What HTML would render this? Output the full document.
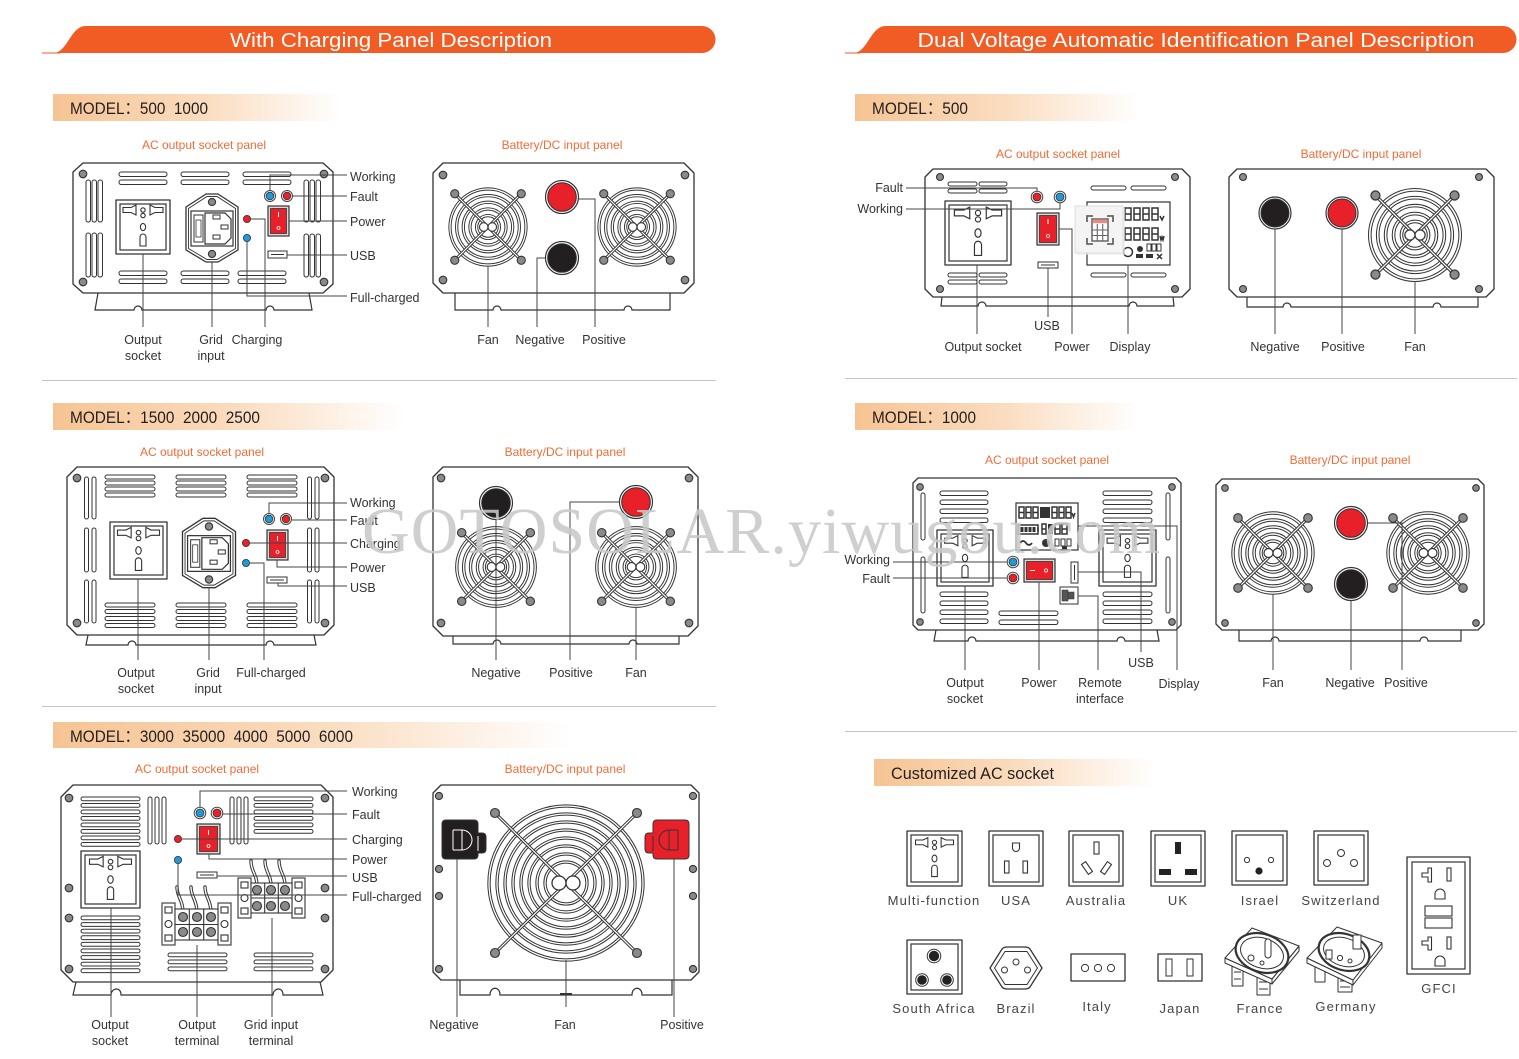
<!DOCTYPE html>
<html><head><meta charset="utf-8">
<style>
html,body{margin:0;padding:0;background:#fff;}
svg{display:block;}
.o{fill:#fff;stroke:#333;stroke-width:1.3;stroke-linejoin:round}
.n{fill:none;stroke:#333;stroke-width:1.2}
.l{fill:none;stroke:#444;stroke-width:1}
.s rect{fill:#fff;stroke:#333;stroke-width:1}
.sc{fill:#8a8a8a;stroke:#333;stroke-width:1.1}
.lb{font-family:"Liberation Sans",sans-serif;font-size:12.5px;fill:#333}
.tt{font-family:"Liberation Sans",sans-serif;font-size:12px;fill:#f26b36}
.md{font-family:"Liberation Sans","Noto Sans CJK SC",sans-serif;font-size:17px;fill:#231f20}
.cs{font-family:"Liberation Sans",sans-serif;font-size:13px;fill:#444;letter-spacing:1.1px}
.dg{fill:none;stroke:#333;stroke-width:1.5}
</style></head><body>
<svg width="1519" height="1059" viewBox="0 0 1519 1059" xmlns="http://www.w3.org/2000/svg">
<defs>
<linearGradient id="mg" x1="0" x2="1" y1="0" y2="0"><stop offset="0" stop-color="#f6c493"/><stop offset=".5" stop-color="#fadbbd"/><stop offset="1" stop-color="#ffffff"/></linearGradient>
</defs>
<rect width="1519" height="1059" fill="#fff"/>

<!-- Banners -->
<path d="M53,53 C68,53 70,26 86,26 H702 A13.5,13.5 0 0 1 702,53 Z" fill="#f15b24"/>
<line x1="42" y1="53" x2="60" y2="53" stroke="#f15b24" stroke-width="1"/>
<text x="391" y="47" text-anchor="middle" font-family="Liberation Sans" font-size="20" fill="#fff" textLength="322" lengthAdjust="spacingAndGlyphs">With Charging Panel Description</text>
<path d="M853,53 C868,53 870,26 886,26 H1503 A13.5,13.5 0 0 1 1503,53 Z" fill="#f15b24"/>
<line x1="845" y1="53" x2="860" y2="53" stroke="#f15b24" stroke-width="1"/>
<text x="1196" y="47" text-anchor="middle" font-family="Liberation Sans" font-size="20" fill="#fff" textLength="557" lengthAdjust="spacingAndGlyphs">Dual Voltage Automatic Identification Panel Description</text>

<!-- Model bars -->
<rect x="53" y="94" width="290" height="27" fill="url(#mg)"/>
<text class="md" x="70" y="114" textLength="138" lengthAdjust="spacingAndGlyphs">MODEL：500&#160;&#160;1000</text>
<rect x="53" y="403" width="352" height="27" fill="url(#mg)"/>
<text class="md" x="70" y="423" textLength="190" lengthAdjust="spacingAndGlyphs">MODEL：1500&#160;&#160;2000&#160;&#160;2500</text>
<rect x="53" y="722" width="520" height="26" fill="url(#mg)"/>
<text class="md" x="70" y="742" textLength="283" lengthAdjust="spacingAndGlyphs">MODEL：3000&#160;&#160;35000&#160;&#160;4000&#160;&#160;5000&#160;&#160;6000</text>
<rect x="855" y="94" width="285" height="27" fill="url(#mg)"/>
<text class="md" x="872" y="114" textLength="96" lengthAdjust="spacingAndGlyphs">MODEL：500</text>
<rect x="855" y="403" width="285" height="27" fill="url(#mg)"/>
<text class="md" x="872" y="423" textLength="104" lengthAdjust="spacingAndGlyphs">MODEL：1000</text>
<rect x="874" y="759" width="282" height="27" fill="url(#mg)"/>
<text class="md" x="891" y="779" textLength="163" lengthAdjust="spacingAndGlyphs">Customized AC socket</text>

<!-- separators -->
<g stroke="#c4c4c4" stroke-width="1">
<line x1="42" y1="380.5" x2="716" y2="380.5"/>
<line x1="42" y1="706.5" x2="716" y2="706.5"/>
<line x1="845" y1="378.5" x2="1517" y2="378.5"/>
<line x1="845" y1="731.5" x2="1517" y2="731.5"/>
</g>

<!-- ================= L1 AC ================= -->
<text class="tt" x="204" y="149" text-anchor="middle">AC output socket panel</text>
<polygon class="o" points="83,163 323,163 333,172 333,284 323,293 83,293 73,284 73,172"/>
<path class="n" d="M98,293 L95,310 H134 A4,4 0 0 1 142,310 H266 A4,4 0 0 1 274,310 H312 L309,293"/>
<g class="sc"><circle cx="83" cy="174" r="3.8"/><circle cx="324" cy="174" r="3.8"/><circle cx="83" cy="282" r="3.8"/><circle cx="324" cy="282" r="3.8"/></g>
<g class="s">
<rect x="119" y="172" width="48" height="4.5" rx="2.2"/><rect x="119" y="180" width="48" height="4.5" rx="2.2"/>
<rect x="181" y="172" width="48" height="4.5" rx="2.2"/><rect x="181" y="180" width="48" height="4.5" rx="2.2"/>
<rect x="243" y="172" width="48" height="4.5" rx="2.2"/><rect x="243" y="180" width="48" height="4.5" rx="2.2"/>
<rect x="119" y="271" width="48" height="4.5" rx="2.2"/><rect x="119" y="279" width="48" height="4.5" rx="2.2"/>
<rect x="181" y="271" width="48" height="4.5" rx="2.2"/><rect x="181" y="279" width="48" height="4.5" rx="2.2"/>
<rect x="238" y="271" width="48" height="4.5" rx="2.2"/><rect x="238" y="279" width="48" height="4.5" rx="2.2"/>
<rect x="86" y="180" width="4.5" height="42" rx="2.2"/><rect x="92" y="180" width="4.5" height="42" rx="2.2"/><rect x="98" y="180" width="4.5" height="42" rx="2.2"/>
<rect x="86" y="233" width="4.5" height="44" rx="2.2"/><rect x="92" y="233" width="4.5" height="44" rx="2.2"/><rect x="98" y="233" width="4.5" height="44" rx="2.2"/>
<rect x="304" y="180" width="4.5" height="42" rx="2.2"/><rect x="310" y="180" width="4.5" height="42" rx="2.2"/><rect x="316" y="180" width="4.5" height="42" rx="2.2"/>
<rect x="304" y="234" width="4.5" height="43" rx="2.2"/><rect x="310" y="234" width="4.5" height="43" rx="2.2"/><rect x="316" y="234" width="4.5" height="43" rx="2.2"/>
</g>
<rect class="o" x="116" y="200" width="54" height="54"/><rect class="n" x="120" y="204" width="46" height="46" stroke-width="1"/>
<g transform="translate(143,227)" fill="#fff" stroke="#333" stroke-width="1.1"><path d="M-20,-19.5 H-12 L-7,-22 V-12 L-12,-14.5 H-20 Z"/><path d="M20,-19.5 H12 L7,-22 V-12 L12,-14.5 H20 Z"/><circle cy="-17" r="2.2"/><circle cy="-11.5" r="2.2"/><ellipse cy="0" rx="2.6" ry="3.6"/><path d="M-3,19 V10 A3,3 0 0 1 3,10 V19 Z"/></g>
<g transform="translate(212,228)">
<path d="M-26,-21 L-6,-34 H6 L26,-21 V22 L6,34 H-6 L-26,22 Z" fill="#fff" stroke="#333" stroke-width="1.3" stroke-linejoin="round"/>
<path d="M-23.5,-19.5 L-5,-31.5 H5 L23.5,-19.5 V20.5 L5,31.5 H-5 L-23.5,20.5 Z" fill="none" stroke="#333" stroke-width=".9"/>
<circle cy="-26" r="3.6" class="sc"/><circle cy="26" r="3.6" class="sc"/>
<rect x="-21" y="-17" width="42" height="35" fill="#fff" stroke="#333" stroke-width="1.2"/>
<rect x="-18" y="-13" width="9" height="27" fill="#fff" stroke="#333"/>
<rect x="-16" y="-8" width="5" height="17" fill="#fff" stroke="#333" stroke-width=".8"/>
<path d="M-7,-15 H13 L19,-9 V10 L13,16 H-7 Z" fill="#fff" stroke="#333" stroke-width="1.2"/>
<g fill="#fff" stroke="#333" stroke-width="1"><rect x="1" y="-13" width="7" height="4"/><rect x="9" y="-3" width="7" height="4"/><rect x="1" y="7" width="7" height="4"/></g>
</g>
<circle cx="270" cy="196" r="5.5" fill="#fff" stroke="#444"/><circle cx="270" cy="196" r="3.8" fill="#1e9ad6" stroke="#333" stroke-width=".8"/>
<circle cx="287" cy="196" r="5.5" fill="#fff" stroke="#444"/><circle cx="287" cy="196" r="3.8" fill="#e8202a" stroke="#333" stroke-width=".8"/>
<circle cx="247" cy="219" r="3.6" fill="#e8202a" stroke="#333" stroke-width=".8"/>
<circle cx="247" cy="238" r="3.6" fill="#1e9ad6" stroke="#333" stroke-width=".8"/>
<rect x="268" y="206" width="21" height="30" fill="#d9d9d9" stroke="#333" stroke-width="1.2"/>
<rect x="270.5" y="208.5" width="16" height="25" fill="#e8202a" stroke="#333" stroke-width=".8"/>
<line x1="278.5" y1="212" x2="278.5" y2="217" stroke="#fff"/><circle cx="278.5" cy="228" r="1.5" fill="none" stroke="#fff" stroke-width=".8"/>
<rect x="268" y="251" width="19" height="7" fill="#fff" stroke="#333"/><line x1="271" y1="254.5" x2="284" y2="254.5" stroke="#333"/>
<g class="l">
<polyline points="270,191 270,175 347,175"/><polyline points="292,196 347,196"/><polyline points="289,221 347,221"/><polyline points="287,255 347,255"/>
<polyline points="247,241 247,296 347,296"/><polyline points="250,219 265,219 265,327"/>
<polyline points="143,254 143,327"/><polyline points="212,262 212,327"/>
</g>
<text class="lb" x="350" y="181">Working</text><text class="lb" x="350" y="201">Fault</text><text class="lb" x="350" y="226">Power</text><text class="lb" x="350" y="260">USB</text><text class="lb" x="350" y="302">Full-charged</text>
<text class="lb" x="143" y="344" text-anchor="middle">Output</text><text class="lb" x="143" y="360" text-anchor="middle">socket</text>
<text class="lb" x="211" y="344" text-anchor="middle">Grid</text><text class="lb" x="211" y="360" text-anchor="middle">input</text>
<text class="lb" x="257" y="344" text-anchor="middle">Charging</text>

<!-- ================= L1 DC ================= -->
<text class="tt" x="562" y="149" text-anchor="middle">Battery/DC input panel</text>
<polygon class="o" points="443,163 684,163 694,173 694,283 684,293 443,293 433,283 433,173"/>
<path class="n" d="M455,293 V310 H493 A4,4 0 0 1 501,310 H624 A4,4 0 0 1 632,310 H670 V293"/>
<g class="sc"><circle cx="443" cy="175" r="3.8"/><circle cx="685" cy="175" r="3.8"/><circle cx="443" cy="280" r="3.8"/><circle cx="685" cy="280" r="3.8"/></g>
<g transform="translate(488,227) scale(.95)"><g fill="none" stroke="#333" stroke-width="3.4"><circle r="40"/><circle r="33"/><circle r="26"/><circle r="19"/><circle r="12"/></g><g fill="none" stroke="#fff" stroke-width="1.4"><circle r="40"/><circle r="33"/><circle r="26"/><circle r="19"/><circle r="12"/></g><path d="M-35,-35L35,35M35,-35L-35,35" stroke="#333" stroke-width="3.2"/><path d="M-35,-35L35,35M35,-35L-35,35" stroke="#fff" stroke-width="1.2"/><circle cx="-4.5" r="4.5" fill="#fff" stroke="#333" stroke-width="1.2"/><circle cx="4.5" r="4.5" fill="#fff" stroke="#333" stroke-width="1.2"/><g class="sc"><circle cx="-35" cy="-35" r="4.3"/><circle cx="35" cy="-35" r="4.3"/><circle cx="-35" cy="35" r="4.3"/><circle cx="35" cy="35" r="4.3"/></g></g>
<g transform="translate(637,227) scale(.95)"><g fill="none" stroke="#333" stroke-width="3.4"><circle r="40"/><circle r="33"/><circle r="26"/><circle r="19"/><circle r="12"/></g><g fill="none" stroke="#fff" stroke-width="1.4"><circle r="40"/><circle r="33"/><circle r="26"/><circle r="19"/><circle r="12"/></g><path d="M-35,-35L35,35M35,-35L-35,35" stroke="#333" stroke-width="3.2"/><path d="M-35,-35L35,35M35,-35L-35,35" stroke="#fff" stroke-width="1.2"/><circle cx="-4.5" r="4.5" fill="#fff" stroke="#333" stroke-width="1.2"/><circle cx="4.5" r="4.5" fill="#fff" stroke="#333" stroke-width="1.2"/><g class="sc"><circle cx="-35" cy="-35" r="4.3"/><circle cx="35" cy="-35" r="4.3"/><circle cx="-35" cy="35" r="4.3"/><circle cx="35" cy="35" r="4.3"/></g></g>
<circle cx="562" cy="197" r="16.5" fill="#fff" stroke="#333" stroke-width="1.2"/><circle cx="562" cy="197" r="14.3" fill="#e8202a" stroke="#333"/>
<circle cx="562" cy="258" r="16.5" fill="#fff" stroke="#333" stroke-width="1.2"/><circle cx="562" cy="258" r="14.3" fill="#231f20" stroke="#333"/>
<g class="l"><polyline points="488,266 488,327"/><polyline points="545,258 537,258 537,327"/><polyline points="579,199 595,199 595,327"/></g>
<text class="lb" x="488" y="344" text-anchor="middle">Fan</text><text class="lb" x="540" y="344" text-anchor="middle">Negative</text><text class="lb" x="604" y="344" text-anchor="middle">Positive</text>

<!-- ================= R1 AC ================= -->
<text class="tt" x="1058" y="158" text-anchor="middle">AC output socket panel</text>
<polygon class="o" points="933,169 1182,169 1190,177 1190,289 1182,297 933,297 925,289 925,177"/>
<path class="n" d="M942,297 L941,306 H978 A4,4 0 0 1 986,306 H1129 A4,4 0 0 1 1137,306 H1174 L1173,297"/>
<g class="sc"><circle cx="940" cy="177" r="3.5"/><circle cx="1175" cy="177" r="3.5"/><circle cx="940" cy="289" r="3.5"/><circle cx="1175" cy="289" r="3.5"/></g>
<g class="s">
<rect x="948" y="182" width="29" height="4" rx="2"/><rect x="948" y="189" width="29" height="4" rx="2"/><rect x="979" y="182" width="28" height="4" rx="2"/><rect x="979" y="189" width="28" height="4" rx="2"/>
<rect x="948" y="273" width="29" height="4" rx="2"/><rect x="948" y="280" width="29" height="4" rx="2"/><rect x="979" y="273" width="28" height="4" rx="2"/><rect x="979" y="280" width="28" height="4" rx="2"/>
<rect x="1091" y="186" width="35" height="4" rx="2"/><rect x="1131" y="186" width="35" height="4" rx="2"/>
<rect x="1091" y="273" width="35" height="4" rx="2"/><rect x="1131" y="273" width="35" height="4" rx="2"/>
</g>
<rect class="o" x="945" y="201" width="66" height="64"/><rect class="n" x="949" y="205" width="58" height="56" stroke-width="1"/>
<g transform="translate(978,233) scale(1.18)" fill="#fff" stroke="#333" stroke-width="1"><path d="M-20,-19.5 H-12 L-7,-22 V-12 L-12,-14.5 H-20 Z"/><path d="M20,-19.5 H12 L7,-22 V-12 L12,-14.5 H20 Z"/><circle cy="-17" r="2.2"/><circle cy="-11.5" r="2.2"/><ellipse cy="0" rx="2.6" ry="3.6"/><path d="M-3,19 V10 A3,3 0 0 1 3,10 V19 Z"/></g>
<circle cx="1037" cy="197" r="5.8" fill="#fff" stroke="#444"/><circle cx="1037" cy="197" r="4" fill="#e8202a" stroke="#333" stroke-width=".8"/>
<circle cx="1060" cy="197" r="5.8" fill="#fff" stroke="#444"/><circle cx="1060" cy="197" r="4" fill="#1e9ad6" stroke="#333" stroke-width=".8"/>
<rect x="1037" y="213" width="22" height="32" fill="#d9d9d9" stroke="#333" stroke-width="1.2"/>
<rect x="1039.5" y="215.5" width="17" height="27" fill="#e8202a" stroke="#333" stroke-width=".8"/>
<line x1="1048" y1="219" x2="1048" y2="224" stroke="#fff"/><circle cx="1048" cy="236" r="1.5" fill="none" stroke="#fff" stroke-width=".8"/>
<rect x="1038" y="262" width="20" height="6" fill="#fff" stroke="#333"/><line x1="1041" y1="265" x2="1055" y2="265" stroke="#333"/>
<rect x="1087" y="202" width="83" height="63" fill="#fff" stroke="#333" stroke-width="1.2"/>
<g class="dg">
<path d="M1125,208h6v12h-6zM1125,214h6M1134,208h6v12h-6zM1134,214h6M1143,208h6v12h-6zM1143,214h6M1152,208h6v12h-6zM1152,214h6M1160,216l2,4l2,-4"/>
<path d="M1125,228h6v12h-6zM1125,234h6M1134,228h6v12h-6zM1134,234h6M1143,228h6v12h-6zM1143,234h6M1152,228h6v12h-6zM1152,234h6M1160,236l1,4l1,-3l1,3l1,-4"/>
<circle cx="1128" cy="252" r="4.5"/>
<path d="M1147,244h4v7h-4zM1152,244h4v7h-4zM1157,244h4v7h-4z" stroke-width="1"/>
</g>
<circle cx="1140" cy="249" r="3" fill="#333"/>
<rect x="1136" y="254" width="7" height="4" fill="#333"/><rect x="1146" y="254" width="7" height="4" fill="#333"/><path d="M1157,254l5,5M1162,254l-5,5" stroke="#333" stroke-width="1.5"/>
<rect x="1113" y="208" width="9" height="13" fill="#333"/><rect x="1113" y="228" width="9" height="13" fill="#333"/>
<rect x="1077" y="208" width="48" height="47" fill="#e9e9e9" opacity=".6"/>
<rect x="1075" y="206" width="48" height="47" fill="#f4f4f4" stroke="#dcdcdc"/>
<path d="M1087,222v-6h6M1107,216h6v6M1113,238v6h-6M1093,244h-6v-6" fill="none" stroke="#666" stroke-width="1.8"/>
<rect x="1092" y="219" width="16" height="22" fill="#fff" stroke="#666" stroke-width="1.5"/>
<rect x="1092.7" y="219.7" width="14.6" height="3.5" fill="#ec8a82"/>
<path d="M1097.3,224v17M1102.7,224v17M1092,230h16M1092,235.5h16" stroke="#666" stroke-width="1.1"/>
<g class="l">
<polyline points="906,188 1037,188 1037,191"/><polyline points="906,209 1060,209 1060,203"/>
<polyline points="1048,268 1048,317"/><polyline points="1059,229 1072,229 1072,334"/>
<polyline points="977,265 977,334"/><polyline points="1128,265 1128,334"/>
</g>
<text class="lb" x="903" y="192" text-anchor="end">Fault</text><text class="lb" x="903" y="213" text-anchor="end">Working</text>
<text class="lb" x="1047" y="330" text-anchor="middle">USB</text>
<text class="lb" x="983" y="351" text-anchor="middle">Output socket</text><text class="lb" x="1072" y="351" text-anchor="middle">Power</text><text class="lb" x="1130" y="351" text-anchor="middle">Display</text>

<!-- ================= R1 DC ================= -->
<text class="tt" x="1361" y="158" text-anchor="middle">Battery/DC input panel</text>
<polygon class="o" points="1237,169 1486,169 1494,177 1494,289 1486,297 1237,297 1229,289 1229,177"/>
<path class="n" d="M1247,297 V307 H1283 A4,4 0 0 1 1291,307 H1433 A4,4 0 0 1 1441,307 H1478 V297"/>
<g class="sc"><circle cx="1243" cy="177" r="3.5"/><circle cx="1479" cy="177" r="3.5"/><circle cx="1243" cy="289" r="3.5"/><circle cx="1479" cy="289" r="3.5"/></g>
<circle cx="1275" cy="213" r="16" fill="#fff" stroke="#333" stroke-width="1.2"/><circle cx="1275" cy="213" r="14" fill="#231f20" stroke="#333"/>
<circle cx="1342" cy="213" r="16" fill="#fff" stroke="#333" stroke-width="1.2"/><circle cx="1342" cy="213" r="14" fill="#e8202a" stroke="#333"/>
<g transform="translate(1415,235) scale(1.13)"><g fill="none" stroke="#333" stroke-width="3.2"><circle r="40"/><circle r="33"/><circle r="26"/><circle r="19"/><circle r="12"/></g><g fill="none" stroke="#fff" stroke-width="1.4"><circle r="40"/><circle r="33"/><circle r="26"/><circle r="19"/><circle r="12"/></g><path d="M-35,-35L35,35M35,-35L-35,35" stroke="#333" stroke-width="3"/><path d="M-35,-35L35,35M35,-35L-35,35" stroke="#fff" stroke-width="1.1"/><circle cx="-4.5" r="4.5" fill="#fff" stroke="#333" stroke-width="1.1"/><circle cx="4.5" r="4.5" fill="#fff" stroke="#333" stroke-width="1.1"/><g class="sc"><circle cx="-35" cy="-35" r="4"/><circle cx="35" cy="-35" r="4"/><circle cx="-35" cy="35" r="4"/><circle cx="35" cy="35" r="4"/></g></g>
<g class="l"><polyline points="1275,229 1275,334"/><polyline points="1342,229 1342,334"/><polyline points="1415,281 1415,334"/></g>
<text class="lb" x="1275" y="351" text-anchor="middle">Negative</text><text class="lb" x="1343" y="351" text-anchor="middle">Positive</text><text class="lb" x="1415" y="351" text-anchor="middle">Fan</text>

<!-- ================= L2 AC ================= -->
<text class="tt" x="202" y="456" text-anchor="middle">AC output socket panel</text>
<polygon class="o" points="77,467 324,467 334,477 334,625 324,635 77,635 67,625 67,477"/>
<path class="n" d="M88,635 L86,645 H128 A4,4 0 0 1 136,645 H266 A4,4 0 0 1 274,645 H316 L314,635"/>
<g class="sc"><circle cx="77" cy="478" r="3.8"/><circle cx="325" cy="478" r="3.8"/><circle cx="77" cy="623" r="3.8"/><circle cx="325" cy="623" r="3.8"/></g>
<g class="s">
<rect x="105" y="475" width="50" height="4" rx="2"/><rect x="105" y="481" width="50" height="4" rx="2"/><rect x="105" y="487" width="50" height="4" rx="2"/><rect x="105" y="493" width="50" height="4" rx="2"/>
<rect x="176" y="475" width="50" height="4" rx="2"/><rect x="176" y="481" width="50" height="4" rx="2"/><rect x="176" y="487" width="50" height="4" rx="2"/><rect x="176" y="493" width="50" height="4" rx="2"/>
<rect x="247" y="475" width="50" height="4" rx="2"/><rect x="247" y="481" width="50" height="4" rx="2"/><rect x="247" y="487" width="50" height="4" rx="2"/><rect x="247" y="493" width="50" height="4" rx="2"/>
<rect x="105" y="603" width="50" height="4" rx="2"/><rect x="105" y="609.5" width="50" height="4" rx="2"/><rect x="105" y="616.5" width="50" height="4" rx="2"/><rect x="105" y="623.5" width="50" height="4" rx="2"/>
<rect x="176" y="603" width="50" height="4" rx="2"/><rect x="176" y="609.5" width="50" height="4" rx="2"/><rect x="176" y="616.5" width="50" height="4" rx="2"/><rect x="176" y="623.5" width="50" height="4" rx="2"/>
<rect x="247" y="603" width="50" height="4" rx="2"/><rect x="247" y="609.5" width="50" height="4" rx="2"/><rect x="247" y="616.5" width="50" height="4" rx="2"/><rect x="247" y="623.5" width="50" height="4" rx="2"/>
<rect x="84.5" y="477" width="4" height="42" rx="2"/><rect x="92" y="477" width="4" height="42" rx="2"/>
<rect x="84.5" y="528" width="4" height="44" rx="2"/><rect x="92" y="528" width="4" height="44" rx="2"/>
<rect x="84.5" y="580" width="4" height="43" rx="2"/><rect x="92" y="580" width="4" height="43" rx="2"/>
<rect x="307.5" y="477" width="4" height="42" rx="2"/><rect x="315" y="477" width="4" height="42" rx="2"/>
<rect x="307.5" y="528" width="4" height="44" rx="2"/><rect x="315" y="528" width="4" height="44" rx="2"/>
<rect x="307.5" y="580" width="4" height="43" rx="2"/><rect x="315" y="580" width="4" height="43" rx="2"/>
</g>
<rect class="o" x="110" y="522" width="57" height="57"/><rect class="n" x="114" y="526" width="49" height="49" stroke-width="1"/>
<g transform="translate(138.5,550.5) scale(1.05)" fill="#fff" stroke="#333" stroke-width="1.05"><path d="M-20,-19.5 H-12 L-7,-22 V-12 L-12,-14.5 H-20 Z"/><path d="M20,-19.5 H12 L7,-22 V-12 L12,-14.5 H20 Z"/><circle cy="-17" r="2.2"/><circle cy="-11.5" r="2.2"/><ellipse cy="0" rx="2.6" ry="3.6"/><path d="M-3,19 V10 A3,3 0 0 1 3,10 V19 Z"/></g>
<g transform="translate(209,553) scale(1.02)">
<path d="M-26,-21 L-6,-34 H6 L26,-21 V22 L6,34 H-6 L-26,22 Z" fill="#fff" stroke="#333" stroke-width="1.3" stroke-linejoin="round"/>
<path d="M-23.5,-19.5 L-5,-31.5 H5 L23.5,-19.5 V20.5 L5,31.5 H-5 L-23.5,20.5 Z" fill="none" stroke="#333" stroke-width=".9"/>
<circle cy="-26" r="3.6" class="sc"/><circle cy="26" r="3.6" class="sc"/>
<rect x="-21" y="-17" width="42" height="35" fill="#fff" stroke="#333" stroke-width="1.2"/>
<rect x="-18" y="-13" width="9" height="27" fill="#fff" stroke="#333"/>
<rect x="-16" y="-8" width="5" height="17" fill="#fff" stroke="#333" stroke-width=".8"/>
<path d="M-7,-15 H13 L19,-9 V10 L13,16 H-7 Z" fill="#fff" stroke="#333" stroke-width="1.2"/>
<g fill="#fff" stroke="#333" stroke-width="1"><rect x="1" y="-13" width="7" height="4"/><rect x="9" y="-3" width="7" height="4"/><rect x="1" y="7" width="7" height="4"/></g>
</g>
<circle cx="269" cy="519" r="5.5" fill="#fff" stroke="#444"/><circle cx="269" cy="519" r="3.8" fill="#1e9ad6" stroke="#333" stroke-width=".8"/>
<circle cx="286" cy="519" r="5.5" fill="#fff" stroke="#444"/><circle cx="286" cy="519" r="3.8" fill="#e8202a" stroke="#333" stroke-width=".8"/>
<circle cx="246" cy="543" r="3.6" fill="#e8202a" stroke="#333" stroke-width=".8"/>
<circle cx="246" cy="563" r="3.6" fill="#1e9ad6" stroke="#333" stroke-width=".8"/>
<rect x="267" y="530" width="21" height="30" fill="#d9d9d9" stroke="#333" stroke-width="1.2"/>
<rect x="269.5" y="532.5" width="16" height="25" fill="#e8202a" stroke="#333" stroke-width=".8"/>
<line x1="277.5" y1="536" x2="277.5" y2="541" stroke="#fff"/><circle cx="277.5" cy="552" r="1.5" fill="none" stroke="#fff" stroke-width=".8"/>
<rect x="267" y="577" width="20" height="6" fill="#fff" stroke="#333"/><line x1="270" y1="580" x2="284" y2="580" stroke="#333"/>
<g class="l">
<polyline points="269,513 269,503 347,503"/><polyline points="292,520 347,520"/><polyline points="250,543 347,543"/>
<polyline points="277,560 277,567 347,567"/><polyline points="278,583 278,586 347,586"/>
<polyline points="250,563 264,563 264,660"/><polyline points="138,579 138,660"/><polyline points="209,588 209,660"/>
</g>
<text class="lb" x="350" y="507">Working</text><text class="lb" x="350" y="525">Fault</text><text class="lb" x="350" y="548">Charging</text><text class="lb" x="350" y="572">Power</text><text class="lb" x="350" y="592">USB</text>
<text class="lb" x="136" y="677" text-anchor="middle">Output</text><text class="lb" x="136" y="693" text-anchor="middle">socket</text>
<text class="lb" x="208" y="677" text-anchor="middle">Grid</text><text class="lb" x="208" y="693" text-anchor="middle">input</text>
<text class="lb" x="271" y="677" text-anchor="middle">Full-charged</text>

<!-- ================= L2 DC ================= -->
<text class="tt" x="565" y="456" text-anchor="middle">Battery/DC input panel</text>
<polygon class="o" points="443,467 688,467 698,477 698,626 688,636 443,636 433,626 433,477"/>
<path class="n" d="M453,636 V644 H493 A4,4 0 0 1 501,644 H629 A4,4 0 0 1 637,644 H679 V636"/>
<g class="sc"><circle cx="441" cy="478" r="3.8"/><circle cx="689" cy="478" r="3.8"/><circle cx="441" cy="623" r="3.8"/><circle cx="689" cy="623" r="3.8"/></g>
<g transform="translate(496,567) scale(.98)"><g fill="none" stroke="#333" stroke-width="3.4"><circle r="40"/><circle r="33"/><circle r="26"/><circle r="19"/><circle r="12"/></g><g fill="none" stroke="#fff" stroke-width="1.4"><circle r="40"/><circle r="33"/><circle r="26"/><circle r="19"/><circle r="12"/></g><path d="M-35,-35L35,35M35,-35L-35,35" stroke="#333" stroke-width="3.2"/><path d="M-35,-35L35,35M35,-35L-35,35" stroke="#fff" stroke-width="1.2"/><circle cx="-4.5" r="4.5" fill="#fff" stroke="#333" stroke-width="1.2"/><circle cx="4.5" r="4.5" fill="#fff" stroke="#333" stroke-width="1.2"/><g class="sc"><circle cx="-35" cy="-35" r="4.3"/><circle cx="35" cy="-35" r="4.3"/><circle cx="-35" cy="35" r="4.3"/><circle cx="35" cy="35" r="4.3"/></g></g>
<g transform="translate(636,567) scale(.98)"><g fill="none" stroke="#333" stroke-width="3.4"><circle r="40"/><circle r="33"/><circle r="26"/><circle r="19"/><circle r="12"/></g><g fill="none" stroke="#fff" stroke-width="1.4"><circle r="40"/><circle r="33"/><circle r="26"/><circle r="19"/><circle r="12"/></g><path d="M-35,-35L35,35M35,-35L-35,35" stroke="#333" stroke-width="3.2"/><path d="M-35,-35L35,35M35,-35L-35,35" stroke="#fff" stroke-width="1.2"/><circle cx="-4.5" r="4.5" fill="#fff" stroke="#333" stroke-width="1.2"/><circle cx="4.5" r="4.5" fill="#fff" stroke="#333" stroke-width="1.2"/><g class="sc"><circle cx="-35" cy="-35" r="4.3"/><circle cx="35" cy="-35" r="4.3"/><circle cx="-35" cy="35" r="4.3"/><circle cx="35" cy="35" r="4.3"/></g></g>
<circle cx="496" cy="503" r="16.5" fill="#fff" stroke="#333" stroke-width="1.2"/><circle cx="496" cy="503" r="14.3" fill="#231f20" stroke="#333"/>
<circle cx="636" cy="502" r="16.5" fill="#fff" stroke="#333" stroke-width="1.2"/><circle cx="636" cy="502" r="14.3" fill="#e8202a" stroke="#333"/>
<g class="l"><polyline points="496,519 496,660"/><polyline points="619,502 570,502 570,660"/><polyline points="636,607 636,660"/></g>
<text class="lb" x="496" y="677" text-anchor="middle">Negative</text><text class="lb" x="571" y="677" text-anchor="middle">Positive</text><text class="lb" x="636" y="677" text-anchor="middle">Fan</text>

<!-- ================= R2 AC ================= -->
<text class="tt" x="1047" y="464" text-anchor="middle">AC output socket panel</text>
<polygon class="o" points="918,478 1176,478 1181,483 1181,625 1176,630 918,630 913,625 913,483"/>
<path class="n" d="M936,630 L934,641 H968 A4,4 0 0 1 976,641 H1117 A4,4 0 0 1 1125,641 H1159 L1157,630"/>
<g class="sc"><circle cx="920" cy="487" r="3.3"/><circle cx="1172" cy="487" r="3.3"/><circle cx="920" cy="622" r="3.3"/><circle cx="1172" cy="622" r="3.3"/></g>
<g class="s">
<rect x="921" y="493" width="4" height="47" rx="2"/><rect x="921" y="557" width="4" height="56" rx="2"/>
<rect x="1166" y="493" width="4" height="47" rx="2"/><rect x="1166" y="557" width="4" height="56" rx="2"/>
<rect x="940" y="491" width="48" height="4.5" rx="2.2"/><rect x="940" y="500" width="48" height="4.5" rx="2.2"/><rect x="940" y="509" width="48" height="4.5" rx="2.2"/><rect x="940" y="518" width="48" height="4.5" rx="2.2"/>
<rect x="1103" y="491" width="49" height="4.5" rx="2.2"/><rect x="1103" y="500" width="49" height="4.5" rx="2.2"/><rect x="1103" y="509" width="49" height="4.5" rx="2.2"/><rect x="1103" y="518" width="49" height="4.5" rx="2.2"/>
<rect x="940" y="592" width="48" height="4.5" rx="2.2"/><rect x="940" y="601" width="48" height="4.5" rx="2.2"/><rect x="940" y="610" width="48" height="4.5" rx="2.2"/><rect x="940" y="619" width="48" height="4.5" rx="2.2"/>
<rect x="1103" y="592" width="49" height="4.5" rx="2.2"/><rect x="1103" y="601" width="49" height="4.5" rx="2.2"/><rect x="1103" y="610" width="49" height="4.5" rx="2.2"/><rect x="1103" y="619" width="49" height="4.5" rx="2.2"/>
<rect x="999" y="611" width="59" height="4.5" rx="2.2"/><rect x="999" y="620" width="59" height="4.5" rx="2.2"/>
</g>
<rect x="1016" y="503" width="62" height="47" fill="#fff" stroke="#333" stroke-width="1.2"/>
<g class="dg" stroke-width="1.3">
<path d="M1019,507h5v11h-5zM1019,512.5h5M1026,507h5v11h-5zM1026,512.5h5M1033,507h5v11h-5zM1033,512.5h5M1052,507h5v11h-5zM1052,512.5h5M1059,507h5v11h-5zM1059,512.5h5M1066,507h5v11h-5zM1066,512.5h5M1072,513l1.5,4l1.5,-4"/>
<rect x="1018" y="525" width="20" height="9"/><path d="M1038,527.5v4"/>
<path d="M1042,524h4v10h-4zM1042,529h4M1055,524h5v10h-5zM1055,529h5M1062,524h5v10h-5zM1062,529h5"/>
<path d="M1020,543q3,-4 6,0q3,4 6,0" stroke-width="1.8"/>
<path d="M1055,539h4v7h-4zM1061,539h4v7h-4zM1067,539h4v7h-4z" stroke-width="1"/>
</g>
<rect x="1040" y="507" width="10" height="11" fill="#333"/>
<g fill="#333"><rect x="1020.5" y="527" width="3" height="5"/><rect x="1024.5" y="527" width="3" height="5"/><rect x="1028.5" y="527" width="3" height="5"/><rect x="1032.5" y="527" width="3" height="5"/><rect x="1048" y="524" width="5" height="10"/><circle cx="1046" cy="543" r="4"/><rect x="1062" y="546" width="5" height="3"/></g>
<rect class="o" x="937" y="530" width="56" height="56"/><rect class="n" x="941" y="534" width="48" height="48" stroke-width="1"/>
<g transform="translate(965,558) scale(1.02)" fill="#fff" stroke="#333" stroke-width="1.05"><path d="M-20,-19.5 H-12 L-7,-22 V-12 L-12,-14.5 H-20 Z"/><path d="M20,-19.5 H12 L7,-22 V-12 L12,-14.5 H20 Z"/><circle cy="-17" r="2.2"/><circle cy="-11.5" r="2.2"/><ellipse cy="0" rx="2.6" ry="3.6"/><path d="M-3,19 V10 A3,3 0 0 1 3,10 V19 Z"/></g>
<rect class="o" x="1099" y="530" width="57" height="56"/><rect class="n" x="1103" y="534" width="49" height="48" stroke-width="1"/>
<g transform="translate(1127.5,558) scale(1.02)" fill="#fff" stroke="#333" stroke-width="1.05"><path d="M-20,-19.5 H-12 L-7,-22 V-12 L-12,-14.5 H-20 Z"/><path d="M20,-19.5 H12 L7,-22 V-12 L12,-14.5 H20 Z"/><circle cy="-17" r="2.2"/><circle cy="-11.5" r="2.2"/><ellipse cy="0" rx="2.6" ry="3.6"/><path d="M-3,19 V10 A3,3 0 0 1 3,10 V19 Z"/></g>
<circle cx="1013" cy="562" r="5.8" fill="#fff" stroke="#444"/><circle cx="1013" cy="562" r="4" fill="#1e9ad6" stroke="#333" stroke-width=".8"/>
<circle cx="1013" cy="578" r="5.8" fill="#fff" stroke="#444"/><circle cx="1013" cy="578" r="4" fill="#e8202a" stroke="#333" stroke-width=".8"/>
<rect x="1024" y="559" width="31" height="23" fill="#d9d9d9" stroke="#333" stroke-width="1.2"/>
<rect x="1026.5" y="561.5" width="26" height="18" fill="#e8202a" stroke="#333" stroke-width=".8"/>
<line x1="1030" y1="570.5" x2="1035" y2="570.5" stroke="#fff"/><circle cx="1046" cy="570.5" r="1.6" fill="none" stroke="#fff" stroke-width=".8"/>
<rect x="1071" y="562" width="7" height="21" fill="#fff" stroke="#333"/><line x1="1074.5" y1="565" x2="1074.5" y2="580" stroke="#333"/>
<rect x="1060" y="587" width="18" height="17" fill="#fff" stroke="#333"/><path d="M1062,590h6v11h-6zM1068,592h6v7h-6z" fill="#555" stroke="#333" stroke-width=".6"/>
<g class="l">
<polyline points="893,562 1007,562"/><polyline points="893,578 1007,578"/>
<polyline points="965,586 965,670"/><polyline points="1039,582 1039,670"/>
<polyline points="1078,596 1098,596 1098,670"/><polyline points="1078,572 1141,572 1141,652"/>
<polyline points="1078,526 1177,526 1177,670"/>
</g>
<text class="lb" x="890" y="564" text-anchor="end">Working</text><text class="lb" x="890" y="583" text-anchor="end">Fault</text>
<text class="lb" x="965" y="687" text-anchor="middle">Output</text><text class="lb" x="965" y="703" text-anchor="middle">socket</text>
<text class="lb" x="1039" y="687" text-anchor="middle">Power</text>
<text class="lb" x="1100" y="687" text-anchor="middle">Remote</text><text class="lb" x="1100" y="703" text-anchor="middle">interface</text>
<text class="lb" x="1141" y="667" text-anchor="middle">USB</text><text class="lb" x="1179" y="688" text-anchor="middle">Display</text>

<!-- ================= R2 DC ================= -->
<text class="tt" x="1350" y="464" text-anchor="middle">Battery/DC input panel</text>
<polygon class="o" points="1222,479 1478,479 1484,485 1484,624 1478,630 1222,630 1216,624 1216,485"/>
<path class="n" d="M1239,630 V641 H1271 A4,4 0 0 1 1279,641 H1420 A4,4 0 0 1 1428,641 H1461 V630"/>
<g class="sc"><circle cx="1225" cy="488" r="3.3"/><circle cx="1476" cy="488" r="3.3"/><circle cx="1225" cy="623" r="3.3"/><circle cx="1476" cy="623" r="3.3"/></g>
<g transform="translate(1273,553)"><g fill="none" stroke="#333" stroke-width="3.4"><circle r="40"/><circle r="33"/><circle r="26"/><circle r="19"/><circle r="12"/></g><g fill="none" stroke="#fff" stroke-width="1.4"><circle r="40"/><circle r="33"/><circle r="26"/><circle r="19"/><circle r="12"/></g><path d="M-35,-35L35,35M35,-35L-35,35" stroke="#333" stroke-width="3.2"/><path d="M-35,-35L35,35M35,-35L-35,35" stroke="#fff" stroke-width="1.2"/><circle cx="-4.5" r="4.5" fill="#fff" stroke="#333" stroke-width="1.2"/><circle cx="4.5" r="4.5" fill="#fff" stroke="#333" stroke-width="1.2"/><g class="sc"><circle cx="-35" cy="-35" r="4.3"/><circle cx="35" cy="-35" r="4.3"/><circle cx="-35" cy="35" r="4.3"/><circle cx="35" cy="35" r="4.3"/></g></g>
<g transform="translate(1428,553)"><g fill="none" stroke="#333" stroke-width="3.4"><circle r="40"/><circle r="33"/><circle r="26"/><circle r="19"/><circle r="12"/></g><g fill="none" stroke="#fff" stroke-width="1.4"><circle r="40"/><circle r="33"/><circle r="26"/><circle r="19"/><circle r="12"/></g><path d="M-35,-35L35,35M35,-35L-35,35" stroke="#333" stroke-width="3.2"/><path d="M-35,-35L35,35M35,-35L-35,35" stroke="#fff" stroke-width="1.2"/><circle cx="-4.5" r="4.5" fill="#fff" stroke="#333" stroke-width="1.2"/><circle cx="4.5" r="4.5" fill="#fff" stroke="#333" stroke-width="1.2"/><g class="sc"><circle cx="-35" cy="-35" r="4.3"/><circle cx="35" cy="-35" r="4.3"/><circle cx="-35" cy="35" r="4.3"/><circle cx="35" cy="35" r="4.3"/></g></g>
<circle cx="1351" cy="523" r="16.5" fill="#fff" stroke="#333" stroke-width="1.2"/><circle cx="1351" cy="523" r="14.3" fill="#e8202a" stroke="#333"/>
<circle cx="1351" cy="584" r="16.5" fill="#fff" stroke="#333" stroke-width="1.2"/><circle cx="1351" cy="584" r="14.3" fill="#231f20" stroke="#333"/>
<g class="l"><polyline points="1273,594 1273,670"/><polyline points="1351,601 1351,670"/><polyline points="1368,523 1402,523 1402,670"/></g>
<text class="lb" x="1273" y="687" text-anchor="middle">Fan</text><text class="lb" x="1350" y="687" text-anchor="middle">Negative</text><text class="lb" x="1406" y="687" text-anchor="middle">Positive</text>

<!-- ================= L3 AC ================= -->
<text class="tt" x="197" y="773" text-anchor="middle">AC output socket panel</text>
<polygon class="o" points="73,785 321,785 333,797 333,970 321,982 73,982 61,970 61,797"/>
<path class="n" d="M76,982 L73,995 H111 C111,988 121,986 121,995 H273 C273,988 283,986 283,995 H323 L320,982"/>
<g class="sc"><circle cx="69" cy="798" r="3.8"/><circle cx="325" cy="798" r="3.8"/><circle cx="69" cy="888" r="3.8"/><circle cx="325" cy="888" r="3.8"/><circle cx="69" cy="918" r="3.8"/><circle cx="325" cy="918" r="3.8"/><circle cx="69" cy="969" r="3.8"/><circle cx="325" cy="969" r="3.8"/></g>
<g class="s">
<rect x="81" y="797" width="59" height="3.8" rx="1.9"/><rect x="81" y="803.5" width="59" height="3.8" rx="1.9"/><rect x="81" y="810" width="59" height="3.8" rx="1.9"/><rect x="81" y="816.5" width="59" height="3.8" rx="1.9"/><rect x="81" y="823" width="59" height="3.8" rx="1.9"/><rect x="81" y="829.5" width="59" height="3.8" rx="1.9"/><rect x="81" y="836" width="59" height="3.8" rx="1.9"/><rect x="81" y="842.5" width="59" height="3.8" rx="1.9"/>
<rect x="254" y="797" width="59" height="3.8" rx="1.9"/><rect x="254" y="803.5" width="59" height="3.8" rx="1.9"/><rect x="254" y="810" width="59" height="3.8" rx="1.9"/><rect x="254" y="816.5" width="59" height="3.8" rx="1.9"/><rect x="254" y="823" width="59" height="3.8" rx="1.9"/><rect x="254" y="829.5" width="59" height="3.8" rx="1.9"/>
<rect x="148" y="797" width="4" height="47" rx="2"/><rect x="155" y="797" width="4" height="47" rx="2"/><rect x="162" y="797" width="4" height="47" rx="2"/>
<rect x="230" y="797" width="4" height="47" rx="2"/><rect x="237" y="797" width="4" height="47" rx="2"/><rect x="244" y="797" width="4" height="47" rx="2"/>
<rect x="81" y="916" width="59" height="3.8" rx="1.9"/><rect x="81" y="922.6" width="59" height="3.8" rx="1.9"/><rect x="81" y="929.2" width="59" height="3.8" rx="1.9"/><rect x="81" y="935.8" width="59" height="3.8" rx="1.9"/><rect x="81" y="942.4" width="59" height="3.8" rx="1.9"/><rect x="81" y="949" width="59" height="3.8" rx="1.9"/><rect x="81" y="955.6" width="59" height="3.8" rx="1.9"/><rect x="81" y="962.2" width="59" height="3.8" rx="1.9"/><rect x="81" y="968.8" width="59" height="3.8" rx="1.9"/>
<rect x="168" y="953" width="59" height="3.8" rx="1.9"/><rect x="168" y="960" width="59" height="3.8" rx="1.9"/><rect x="168" y="967" width="59" height="3.8" rx="1.9"/>
<rect x="254" y="953" width="59" height="3.8" rx="1.9"/><rect x="254" y="960" width="59" height="3.8" rx="1.9"/><rect x="254" y="967" width="59" height="3.8" rx="1.9"/>
</g>
<rect class="o" x="81" y="851" width="59" height="57"/><rect class="n" x="85" y="855" width="51" height="49" stroke-width="1"/>
<g transform="translate(110.5,879.5) scale(1.05)" fill="#fff" stroke="#333" stroke-width="1.05"><path d="M-20,-19.5 H-12 L-7,-22 V-12 L-12,-14.5 H-20 Z"/><path d="M20,-19.5 H12 L7,-22 V-12 L12,-14.5 H20 Z"/><circle cy="-17" r="2.2"/><circle cy="-11.5" r="2.2"/><ellipse cy="0" rx="2.6" ry="3.6"/><path d="M-3,19 V10 A3,3 0 0 1 3,10 V19 Z"/></g>
<circle cx="200" cy="813" r="5.8" fill="#fff" stroke="#444"/><circle cx="200" cy="813" r="4" fill="#1e9ad6" stroke="#333" stroke-width=".8"/>
<circle cx="217" cy="813" r="5.8" fill="#fff" stroke="#444"/><circle cx="217" cy="813" r="4" fill="#e8202a" stroke="#333" stroke-width=".8"/>
<circle cx="178" cy="839" r="3.6" fill="#e8202a" stroke="#333" stroke-width=".8"/>
<circle cx="178" cy="860" r="3.6" fill="#1e9ad6" stroke="#333" stroke-width=".8"/>
<rect x="197" y="824" width="23" height="30" fill="#d9d9d9" stroke="#333" stroke-width="1.2"/>
<rect x="199.5" y="826.5" width="18" height="25" fill="#e8202a" stroke="#333" stroke-width=".8"/>
<line x1="208.5" y1="830" x2="208.5" y2="835" stroke="#fff"/><circle cx="208.5" cy="846" r="1.5" fill="none" stroke="#fff" stroke-width=".8"/>
<rect x="197" y="872" width="20" height="6" fill="#fff" stroke="#333"/><line x1="200" y1="875" x2="214" y2="875" stroke="#333"/>
<g fill="none" stroke-linecap="round">
<path d="M177,887 C177,897 183,900 183,913 M191,887 C191,897 197,900 197,913 M205,887 C205,897 211,900 211,913" stroke="#333" stroke-width="3.4"/>
<path d="M177,887 C177,897 183,900 183,913 M191,887 C191,897 197,900 197,913 M205,887 C205,897 211,900 211,913" stroke="#fff" stroke-width="1.4"/>
<path d="M251,861 C251,872 257,874 257,886 M265,861 C265,872 271,874 271,886 M279,861 C279,872 285,874 285,886" stroke="#333" stroke-width="3.4"/>
<path d="M251,861 C251,872 257,874 257,886 M265,861 C265,872 271,874 271,886 M279,861 C279,872 285,874 285,886" stroke="#fff" stroke-width="1.4"/>
</g>
<g fill="#fff" stroke="#333" stroke-width="1.1">
<rect x="162" y="903" width="13" height="42"/><rect x="218" y="903" width="13" height="42"/>
<rect x="165" y="907" width="7" height="6"/><circle cx="168.5" cy="924" r="3.5"/><rect x="165" y="935" width="7" height="6"/>
<rect x="221" y="907" width="7" height="6"/><circle cx="224.5" cy="924" r="3.5"/><rect x="221" y="935" width="7" height="6"/>
<rect x="175" y="909" width="43" height="31"/><path d="M175,924.5h43M189.3,909v31M203.7,909v31"/>
<rect x="238" y="878" width="13" height="40"/><rect x="292" y="878" width="13" height="40"/>
<rect x="241" y="882" width="7" height="6"/><circle cx="244.5" cy="898" r="3.5"/><rect x="241" y="908" width="7" height="6"/>
<rect x="295" y="882" width="7" height="6"/><circle cx="298.5" cy="898" r="3.5"/><rect x="295" y="908" width="7" height="6"/>
<rect x="251" y="883" width="41" height="30"/><path d="M251,898h41M264.7,883v30M278.3,883v30"/>
</g>
<g class="sc"><circle cx="183" cy="917" r="4.5"/><circle cx="197" cy="917" r="4.5"/><circle cx="211" cy="917" r="4.5"/><circle cx="183" cy="932" r="4.5"/><circle cx="197" cy="932" r="4.5"/><circle cx="211" cy="932" r="4.5"/>
<circle cx="257" cy="890" r="4.5"/><circle cx="271" cy="890" r="4.5"/><circle cx="285" cy="890" r="4.5"/><circle cx="257" cy="906" r="4.5"/><circle cx="271" cy="906" r="4.5"/><circle cx="285" cy="906" r="4.5"/></g>
<g class="l">
<polyline points="200,807 200,791 347,791"/><polyline points="223,814 347,814"/><polyline points="182,839 347,839"/>
<polyline points="209,854 209,859 347,859"/><polyline points="217,876 347,876"/><polyline points="178,864 178,895 347,895"/>
<polyline points="111,908 111,1017"/><polyline points="197,945 197,1017"/><polyline points="272,918 272,1017"/>
</g>
<text class="lb" x="352" y="796">Working</text><text class="lb" x="352" y="819">Fault</text><text class="lb" x="352" y="844">Charging</text><text class="lb" x="352" y="864">Power</text><text class="lb" x="352" y="882">USB</text><text class="lb" x="352" y="901">Full-charged</text>
<text class="lb" x="110" y="1029" text-anchor="middle">Output</text><text class="lb" x="110" y="1045" text-anchor="middle">socket</text>
<text class="lb" x="197" y="1029" text-anchor="middle">Output</text><text class="lb" x="197" y="1045" text-anchor="middle">terminal</text>
<text class="lb" x="271" y="1029" text-anchor="middle">Grid input</text><text class="lb" x="271" y="1045" text-anchor="middle">terminal</text>

<!-- ================= L3 DC ================= -->
<text class="tt" x="565" y="773" text-anchor="middle">Battery/DC input panel</text>
<polygon class="o" points="441,785 691,785 699,793 699,972 691,980 441,980 433,972 433,793"/>
<path class="n" d="M460,980 V995 H490 C490,986 500,986 500,995 H632 C632,986 642,986 642,995 H672 V980"/>
<line x1="560" y1="994" x2="572" y2="994" stroke="#333" stroke-width="2"/>
<g class="sc"><circle cx="439" cy="796" r="3.6"/><circle cx="693" cy="796" r="3.6"/><circle cx="439" cy="869" r="3.6"/><circle cx="693" cy="869" r="3.6"/><circle cx="439" cy="896" r="3.6"/><circle cx="693" cy="896" r="3.6"/><circle cx="439" cy="969" r="3.6"/><circle cx="693" cy="969" r="3.6"/></g>
<g transform="translate(566,883)">
<g fill="none" stroke="#333" stroke-width="3.3"><circle r="77"/><circle r="69"/><circle r="61"/><circle r="53"/><circle r="45"/><circle r="37"/><circle r="29"/><circle r="21"/></g>
<g fill="none" stroke="#fff" stroke-width="1.3"><circle r="77"/><circle r="69"/><circle r="61"/><circle r="53"/><circle r="45"/><circle r="37"/><circle r="29"/><circle r="21"/></g>
<path d="M-71,-70L71,70M71,-70L-71,70" stroke="#333" stroke-width="3.2"/><path d="M-71,-70L71,70M71,-70L-71,70" stroke="#fff" stroke-width="1.2"/>
<circle cx="-7" r="7" fill="#fff" stroke="#333" stroke-width="1.3"/><circle cx="7" r="7" fill="#fff" stroke="#333" stroke-width="1.3"/>
<g class="sc"><circle cx="-71" cy="-70" r="4.5"/><circle cx="71" cy="-70" r="4.5"/><circle cx="-71" cy="70" r="4.5"/><circle cx="71" cy="70" r="4.5"/></g>
</g>
<path d="M446,820 H474 Q478,820 478,824 V833 H482 Q486,833 486,837 V849 Q486,853 482,853 H478 V855 Q478,859 474,859 H446 Q442,859 442,855 V824 Q442,820 446,820 Z" fill="#231f20" stroke="#333"/>
<path d="M453,830 V850 M453,830 H462 A10,10 0 0 1 462,850 H453 M462,830 V850 M478,836 V851" fill="none" stroke="#fff" stroke-width="1"/>
<path d="M685,820 H657 Q653,820 653,824 V833 H649 Q645,833 645,837 V849 Q645,853 649,853 H653 V855 Q653,859 657,859 H685 Q689,859 689,855 V824 Q689,820 685,820 Z" fill="#e8202a" stroke="#333"/>
<path d="M678,830 V850 M678,830 H669 A10,10 0 0 0 669,850 H678 M669,830 V850 M653,836 V851" fill="none" stroke="#333" stroke-width="1"/>
<g class="l"><polyline points="457,859 457,1017"/><polyline points="566,960 566,1007"/><polyline points="674,859 674,1017"/></g>
<text class="lb" x="454" y="1029" text-anchor="middle">Negative</text><text class="lb" x="565" y="1029" text-anchor="middle">Fan</text><text class="lb" x="682" y="1029" text-anchor="middle">Positive</text>

<!-- ================= Customized sockets ================= -->
<rect class="o" x="907" y="831" width="55" height="55"/><rect class="n" x="911" y="835" width="47" height="47" stroke-width="1"/>
<g transform="translate(934.5,858.5) scale(.95)" fill="#fff" stroke="#333" stroke-width="1.1"><path d="M-20,-19.5 H-12 L-7,-22 V-12 L-12,-14.5 H-20 Z"/><path d="M20,-19.5 H12 L7,-22 V-12 L12,-14.5 H20 Z"/><circle cy="-17" r="2.2"/><circle cy="-11.5" r="2.2"/><ellipse cy="0" rx="2.6" ry="3.6"/><path d="M-3,19 V10 A3,3 0 0 1 3,10 V19 Z"/></g>
<rect class="o" x="989" y="831" width="54" height="55"/><rect class="n" x="993" y="835" width="46" height="47" stroke-width="1"/>
<path d="M1012.5,843 h7 v5 a3.5,3.5 0 0 1 -7,0 z" fill="#fff" stroke="#333" stroke-width="1.1"/>
<rect x="1004.5" y="861" width="4.5" height="12" fill="#fff" stroke="#333" stroke-width="1.1"/><rect x="1023" y="861" width="4.5" height="12" fill="#fff" stroke="#333" stroke-width="1.1"/>
<rect class="o" x="1069" y="831" width="54" height="55"/><rect class="n" x="1073" y="835" width="46" height="47" stroke-width="1"/>
<rect x="1094" y="842" width="5" height="12" fill="#fff" stroke="#333" stroke-width="1.1"/>
<rect x="-2.5" y="-6" width="5" height="12" transform="translate(1087,868) rotate(-35)" fill="#fff" stroke="#333" stroke-width="1.1"/>
<rect x="-2.5" y="-6" width="5" height="12" transform="translate(1106,868) rotate(35)" fill="#fff" stroke="#333" stroke-width="1.1"/>
<rect class="o" x="1151" y="831" width="54" height="55"/><rect class="n" x="1155" y="835" width="46" height="47" stroke-width="1"/>
<rect x="1175" y="842" width="6" height="12" fill="#222"/><rect x="1159" y="869" width="12" height="6" fill="#222"/><rect x="1185" y="869" width="12" height="6" fill="#222"/>
<rect class="o" x="1232" y="831" width="55" height="54"/><rect class="n" x="1236" y="835" width="47" height="46" stroke-width="1"/>
<circle cx="1247" cy="860" r="2.6" fill="#fff" stroke="#333"/><circle cx="1271" cy="860" r="2.6" fill="#fff" stroke="#333"/><circle cx="1259" cy="871" r="3.6" fill="#222"/>
<rect class="o" x="1314" y="831" width="54" height="54"/><rect class="n" x="1318" y="835" width="46" height="46" stroke-width="1"/>
<circle cx="1341" cy="853" r="3.5" fill="#fff" stroke="#333"/><circle cx="1327" cy="863" r="3.5" fill="#fff" stroke="#333"/><circle cx="1354" cy="863" r="3.5" fill="#fff" stroke="#333"/>
<rect class="o" x="1407" y="857" width="63" height="117"/><rect class="n" x="1412" y="862" width="53" height="107" stroke-width="1"/>
<g fill="#fff" stroke="#333" stroke-width="1.1">
<path d="M1428,868 h3.5 v14 h-3.5 v-5 h-6 v-4 h6 z"/><rect x="1447" y="868" width="4" height="13"/>
<path d="M1435,899 v-5 a5,5 0 0 1 10,0 v5 z"/>
<rect x="1425" y="906" width="27" height="10"/><rect x="1425" y="918" width="27" height="10"/>
<path d="M1428,937 h3.5 v13 h-3.5 v-5 h-6 v-4 h6 z"/><rect x="1447" y="937" width="4" height="12"/>
<path d="M1435,966 v-5 a5,5 0 0 1 10,0 v5 z"/>
</g>
<rect class="o" x="907" y="940" width="55" height="54"/><rect class="n" x="911" y="944" width="47" height="46" stroke-width="1"/>
<circle cx="934" cy="956" r="6.8" fill="#fff" stroke="#333"/><circle cx="934" cy="956" r="5.2" fill="#222"/>
<circle cx="922" cy="980" r="6.3" fill="#fff" stroke="#333"/><circle cx="922" cy="980" r="4.8" fill="#222"/>
<circle cx="947" cy="980" r="6.3" fill="#fff" stroke="#333"/><circle cx="947" cy="980" r="4.8" fill="#222"/>
<path d="M990,968 L1002,949 Q1004,947 1007,947 H1025 Q1028,947 1030,949 L1042,968 L1030,987 Q1028,989 1025,989 H1007 Q1004,989 1002,987 Z" fill="#fff" stroke="#333" stroke-width="1.3"/>
<path d="M994.5,968 L1005,951.5 H1027 L1037.5,968 L1027,984.5 H1005 Z" fill="none" stroke="#333" stroke-width="1" stroke-linejoin="round"/>
<circle cx="1016" cy="962" r="3" fill="#fff" stroke="#333"/><circle cx="1004.5" cy="970" r="3" fill="#fff" stroke="#333"/><circle cx="1027.5" cy="970" r="3" fill="#fff" stroke="#333"/>
<rect class="o" x="1071" y="954" width="54" height="27"/>
<circle cx="1085" cy="968" r="3.6" fill="#fff" stroke="#333"/><circle cx="1098" cy="968" r="3.6" fill="#fff" stroke="#333"/><circle cx="1111" cy="968" r="3.6" fill="#fff" stroke="#333"/>
<rect class="o" x="1158" y="954" width="44" height="27"/>
<rect x="1166" y="959" width="6" height="17" fill="#fff" stroke="#333"/><rect x="1187" y="959" width="6" height="17" fill="#fff" stroke="#333"/>
<!-- France -->
<g stroke="#333" stroke-width="1" stroke-linejoin="round">
<rect x="1232" y="966" width="11" height="20" fill="#fff"/><path d="M1234,972h7M1234,979h7" fill="none"/>
<rect x="1257" y="976" width="13" height="19" fill="#fff"/><path d="M1259,982h9M1259,989h9" fill="none"/>
<polygon points="1225,958 1272,979 1272,984 1225,963" fill="#fff"/><polygon points="1272,979 1299,946 1299,951 1272,984" fill="#fff"/>
<polygon points="1225,958 1252,928 1299,946 1272,979" fill="#fff"/>
<ellipse cx="1262" cy="953" rx="27" ry="19" transform="rotate(18 1262 953)" fill="#fff" stroke-width="2.2"/>
<ellipse cx="1262" cy="953" rx="22" ry="15" transform="rotate(18 1262 953)" fill="#fff" stroke-width="1"/>
<rect x="1265" y="939" width="6" height="19" rx="3" fill="#fff"/>
<circle cx="1251" cy="958" r="3" fill="#fff"/><circle cx="1262" cy="963" r="2" fill="#fff"/>
</g>
<!-- Germany -->
<g stroke="#333" stroke-width="1" stroke-linejoin="round">
<rect x="1315" y="964" width="10" height="18" fill="#fff"/>
<rect x="1338" y="975" width="14" height="17" fill="#fff"/><path d="M1340,981h10M1340,987h10" fill="none"/>
<polygon points="1307,958 1353,980 1353,985 1307,963" fill="#fff"/><polygon points="1353,980 1382,943 1382,948 1353,985" fill="#fff"/>
<polygon points="1307,958 1337,927 1382,943 1353,980" fill="#fff"/>
<ellipse cx="1344" cy="952" rx="26" ry="18" transform="rotate(18 1344 952)" fill="#fff" stroke-width="2.2"/>
<ellipse cx="1344" cy="952" rx="21" ry="14" transform="rotate(18 1344 952)" fill="#fff" stroke-width="1"/>
<path d="M1353,935 h8 v14 h-8 z M1326,950 h6 v9 h-6 z" fill="#fff"/>
<circle cx="1340" cy="958" r="2.6" fill="#fff"/><circle cx="1350" cy="961" r="2" fill="#fff"/>
</g>
<text class="cs" x="934" y="905" text-anchor="middle">Multi-function</text>
<text class="cs" x="1016" y="905" text-anchor="middle">USA</text>
<text class="cs" x="1096" y="905" text-anchor="middle">Australia</text>
<text class="cs" x="1178" y="905" text-anchor="middle">UK</text>
<text class="cs" x="1260" y="905" text-anchor="middle">Israel</text>
<text class="cs" x="1341" y="905" text-anchor="middle">Switzerland</text>
<text class="cs" x="1439" y="993" text-anchor="middle">GFCI</text>
<text class="cs" x="934" y="1013" text-anchor="middle">South Africa</text>
<text class="cs" x="1016" y="1013" text-anchor="middle">Brazil</text>
<text class="cs" x="1097" y="1011" text-anchor="middle">Italy</text>
<text class="cs" x="1180" y="1013" text-anchor="middle">Japan</text>
<text class="cs" x="1260" y="1013" text-anchor="middle">France</text>
<text class="cs" x="1346" y="1011" text-anchor="middle">Germany</text>

<!-- Watermark -->
<text x="362" y="553" font-family="Liberation Serif, serif" font-size="66" fill="#c8c8c8" fill-opacity=".88" textLength="798" lengthAdjust="spacing">GOTOSOLAR.yiwugou.com</text>
</svg>
</body></html>
